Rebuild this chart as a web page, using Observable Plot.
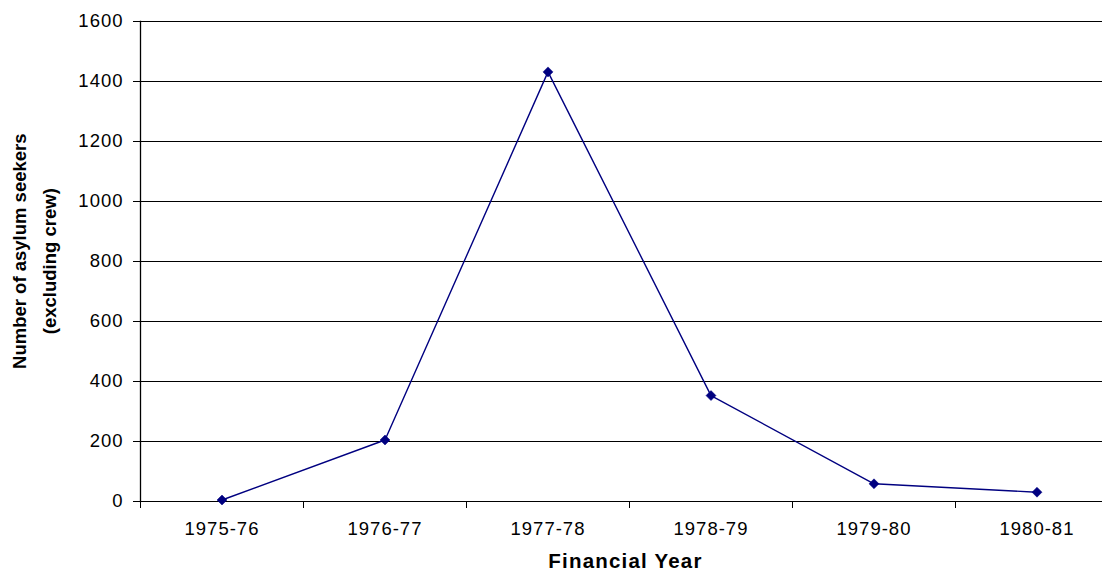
<!DOCTYPE html>
<html>
<head>
<meta charset="utf-8">
<script src="https://cdn.jsdelivr.net/npm/d3@7"></script>
<script src="https://cdn.jsdelivr.net/npm/@observablehq/plot@0.6"></script>
<style>
  body { margin: 0; background: #fff; }
  #chart svg { font-family: "Liberation Sans", Arial, sans-serif; display: block; }
</style>
</head>
<body>
<div id="chart"></div>
<script>
const years = ["1975-76", "1976-77", "1977-78", "1978-79", "1979-80", "1980-81"];
const seekers = [5, 205, 1432, 353, 59, 31];
const yTicks = [0, 200, 400, 600, 800, 1000, 1200, 1400, 1600];
const yLabel1 = "Number of asylum seekers";
const yLabel2 = "(excluding crew)";
const xLabel = "Financial Year";

const data = years.map((year, i) => ({i, year, value: seekers[i]}));
const bounds = d3.range(years.length + 1).map(k => k - 0.5);

const chart = Plot.plot({
  width: 1102,
  height: 573,
  marginLeft: 140,
  marginRight: 0,
  marginTop: 21,
  marginBottom: 72,
  style: {fontFamily: "'Liberation Sans', Arial, sans-serif", fontSize: "18.5px", color: "#000", background: "#fff"},
  x: {type: "linear", domain: [-0.5, years.length - 0.5], range: [140, 1118]},
  y: {domain: [0, 1600]},
  marks: [
    Plot.ruleY(yTicks, {stroke: "#000", strokeWidth: 1}),
    Plot.frame({anchor: "left", stroke: "#000", strokeWidth: 1.3}),
    Plot.axisY(yTicks, {tickSize: 7, tickPadding: 10, tickFormat: d => String(d), label: null, stroke: "#000"}),
    Plot.axisX(bounds, {tickSize: 7, tickFormat: () => "", label: null, stroke: "#000"}),
    Plot.axisX(d3.range(years.length), {tickSize: 0, tickPadding: 20, tickFormat: i => years[i], label: null}),
    Plot.line(data, {x: "i", y: "value", stroke: "#000080", strokeWidth: 1.4}),
    Plot.dot(data, {x: "i", y: "value", symbol: "diamond2", r: 4.5, fill: "#000080", stroke: "#000080", strokeWidth: 0.5}),
    Plot.text([yLabel1], {text: d => d, frameAnchor: "left", textAnchor: "middle", rotate: -90, dx: -120.5, dy: -10.3, lineAnchor: "middle", fontWeight: "bold", fontSize: 18.5, fill: "#000"}),
    Plot.text([yLabel2], {text: d => d, frameAnchor: "left", textAnchor: "middle", rotate: -90, dx: -90, dy: -0.3, lineAnchor: "middle", fontWeight: "bold", fontSize: 18.5, fill: "#000"}),
    Plot.text([xLabel], {text: d => d, frameAnchor: "bottom", textAnchor: "middle", dx: 4, dy: 52, lineAnchor: "top", fontWeight: "bold", fontSize: 20.5, fill: "#000"})
  ]
});

document.getElementById("chart").appendChild(chart);

d3.select(chart).selectAll('g[aria-label="x-axis tick label"] text, g[aria-label="y-axis tick label"] text')
  .style("letter-spacing", "1px");
d3.select(chart).selectAll("text").filter(function () { return this.textContent === xLabel; })
  .style("letter-spacing", "1.2px");
</script>
</body>
</html>
